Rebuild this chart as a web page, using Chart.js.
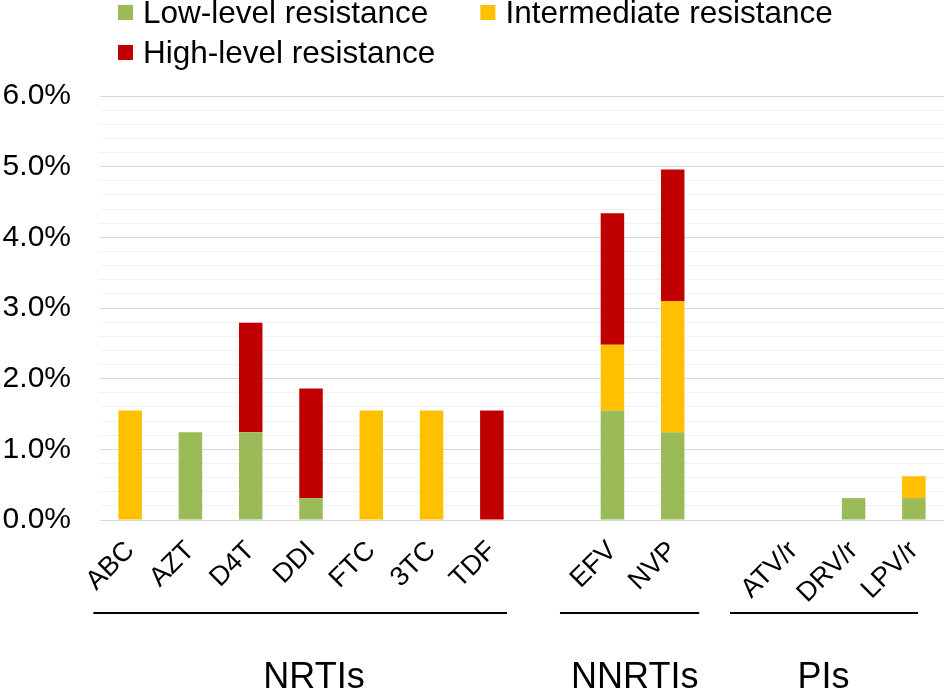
<!DOCTYPE html>
<html><head><meta charset="utf-8">
<script src="https://cdn.jsdelivr.net/npm/chart.js@4.4.0/dist/chart.umd.min.js"></script>
<style>html,body{margin:0;padding:0;background:#fff;} #wrap{width:945px;height:689px;position:relative;}</style>
</head><body><div id="wrap"><canvas id="c" width="945" height="689"></canvas></div>
<script>
const categories = ['ABC','AZT','D4T','DDI','FTC','3TC','TDF','','EFV','NVP','','ATV/r','DRV/r','LPV/r'];
const lowLevel     = [0, 1.24, 1.24, 0.31, 0, 0, 0, null, 1.55, 1.24, null, 0, 0.31, 0.31];
const intermediate = [1.55, 0, 0, 0, 1.55, 1.55, 0, null, 0.93, 1.86, null, 0, 0, 0.31];
const highLevel    = [0, 0, 1.55, 1.55, 0, 0, 1.55, null, 1.86, 1.86, null, 0, 0, 0];
const seriesNames = ['Low-level resistance','Intermediate resistance','High-level resistance'];
const seriesColors = ['#9BBB59','#FFC000','#C00000'];
const groupNames = ['NRTIs','NNRTIs','PIs'];
const groupSpans = [[-0.61, 6.25],[7.13, 9.44],[9.95, 13.07]];
const groupLabelAt = [3.05, 8.37, 11.5];

const FONT = "'Liberation Sans', Arial, sans-serif";

const overlay = {
  id: 'overlay',
  afterDraw(chart) {
    const ctx = chart.ctx;
    const xs = chart.scales.x;
    const area = chart.chartArea;
    ctx.save();
    // legend
    ctx.font = '31.5px ' + FONT;
    ctx.textBaseline = 'alphabetic';
    ctx.textAlign = 'left';
    const ds = chart.data.datasets;
    const order = [[0, 1], [2]];
    const y0 = 23;
    order.forEach((row, r) => {
      let x = 118;
      const base = y0 + r * 40;
      row.forEach(i => {
        ctx.fillStyle = ds[i].backgroundColor;
        ctx.fillRect(x, base - 18, 15, 15);
        ctx.fillStyle = '#000';
        ctx.fillText(ds[i].label, x + 25, base);
        x += 25 + ctx.measureText(ds[i].label).width + 52;
      });
    });
    // group lines
    ctx.strokeStyle = '#000';
    ctx.lineWidth = 2;
    const ly = area.bottom + 93;
    groupSpans.forEach(s => {
      ctx.beginPath();
      ctx.moveTo(xs.getPixelForValue(s[0]), ly);
      ctx.lineTo(xs.getPixelForValue(s[1]), ly);
      ctx.stroke();
    });
    // group labels
    ctx.font = '36px ' + FONT;
    ctx.textAlign = 'center';
    ctx.fillStyle = '#000';
    groupNames.forEach((g, i) => {
      ctx.fillText(g, xs.getPixelForValue(groupLabelAt[i]), 688);
    });
    ctx.restore();
  }
};

new Chart(document.getElementById('c'), {
  type: 'bar',
  data: {
    labels: categories,
    datasets: [
      { label: seriesNames[0], data: lowLevel, backgroundColor: seriesColors[0] },
      { label: seriesNames[1], data: intermediate, backgroundColor: seriesColors[1] },
      { label: seriesNames[2], data: highLevel, backgroundColor: seriesColors[2] }
    ]
  },
  options: {
    responsive: false,
    animation: false,
    devicePixelRatio: 1,
    layout: { padding: { top: 96, left: 0, right: 1, bottom: 0 } },
    datasets: { bar: { categoryPercentage: 1, barPercentage: 0.39, borderWidth: 0 } },
    plugins: { legend: { display: false }, tooltip: { enabled: false } },
    scales: {
      x: {
        stacked: true,
        grid: { display: false },
        border: { display: false },
        ticks: {
          autoSkip: false, minRotation: 45, maxRotation: 45, padding: 7,
          color: '#000', font: { family: FONT, size: 27 }
        },
        afterFit(s) { s.height = 169; }
      },
      y: {
        stacked: true, min: 0, max: 6,
        border: { display: false },
        grid: {
          drawTicks: false,
          color: c => (Math.abs(c.tick.value - Math.round(c.tick.value)) < 1e-6 ? '#D9D9D9' : '#F2F2F2'),
          lineWidth: 1
        },
        ticks: {
          stepSize: 0.2, autoSkip: false, padding: 29, color: '#000',
          font: { family: FONT, size: 30 },
          callback: v => (Math.abs(v - Math.round(v)) < 1e-6 ? Math.round(v).toFixed(1) + '%' : '')
        },
        afterFit(s) { s.width = 100; }
      }
    }
  },
  plugins: [overlay]
});
</script></body></html>
